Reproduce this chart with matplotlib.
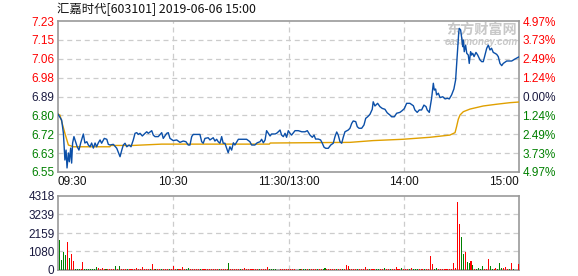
import matplotlib
matplotlib.use("Agg")
import matplotlib.pyplot as plt

# ---------------- data ----------------
title = "汇嘉时代[603101] 2019-06-06 15:00"
pre_close = 6.89
tick_pcts = [-4.97, -3.73, -2.49, -1.24, 0.0, 1.24, 2.49, 3.73, 4.97]
price_labels = ["6.55", "6.63", "6.72", "6.80", "6.89", "6.98", "7.06", "7.15", "7.23"]
pct_labels = ["4.97%", "3.73%", "2.49%", "1.24%", "0.00%", "1.24%", "2.49%", "3.73%", "4.97%"]
time_ticks = [0, 60, 120, 180, 240]
time_labels = ["09:30", "10:30", "11:30/13:00", "14:00", "15:00"]
vol_ticks = [0, 1080, 2159, 3239, 4318]
vol_labels = ["0", "1080", "2159", "3239", "4318"]

price_t = [0, 1.9, 2.8, 3.6, 4.2, 4.7, 5.4, 5.9, 6.6, 7.1, 7.6, 8.3, 9.4, 10, 10.9, 11.8, 13.2, 14, 15, 15.8,
           16.7, 17.5, 18.4, 19.3, 20.1, 21, 21.9, 22.7, 24.1, 25.4, 26.2, 27.1, 28.8, 30.6, 32.3, 33.2, 34, 34.9,
           35.8, 37, 38, 39.2, 40.1, 41, 41.8, 42.7, 43.9, 45.3, 46.2, 47, 48.8, 49.6, 50.5, 52.2, 54, 54.8, 56.6,
           57.4, 58.3, 60, 61.8, 63.5, 65.2, 66.6, 67.8, 68.7, 69.6, 70.4, 73.9, 74.8, 75.6, 76.5, 78.2, 79.1, 80.8,
           81.7, 82.6, 83.4, 84.3, 85.2, 86, 86.9, 87.8, 88.6, 89.5, 90.4, 91.3, 92.1, 93.9, 98.2, 99.9, 100.8,
           102.5, 103.7, 105.2, 106, 106.9, 107.8, 108.6, 109.5, 110.4, 111.2, 113, 113.8, 114.7, 115.6, 116.4,
           117.3, 118.2, 119, 119.9, 120.8, 121.6, 123.4, 125.1, 126.9, 128.6, 129.8, 131.2, 132.4, 133.3, 134.1,
           135.5, 136.7, 137.6, 138.5, 139.4, 140.7, 142, 143.3, 144.2, 145.1, 145.9, 146.8, 147.7, 148.5, 149.4,
           151.1, 152, 152.9, 153.7, 155, 155.8, 156.7, 158.1, 159.3, 160.2, 161.2, 162.4, 163.6, 164.1, 165,
           166.4, 167.6, 168.8, 170.2, 171.4, 172.8, 173.7, 175.1, 176.3, 178, 179.2, 180.3, 181.5, 183.2, 185,
           185.8, 187, 188.1, 189.3, 190.5, 191.6, 192.2, 193.3, 194.5, 195.4, 195.9, 196.6, 197.1, 198, 198.9,
           200.3, 201.5, 202.7, 203.7, 204.9, 206.1, 207, 207.5, 208.1, 208.6, 208.9, 209.6, 210.2, 210.7, 211,
           211.5, 212.2, 212.8, 213.6, 214.1, 214.8, 215.3, 215.9, 216.6, 217.6, 218.5, 219.7, 220.6, 221.4,
           222.3, 223.2, 224, 224.9, 225.7, 226.6, 227.5, 228.4, 229.2, 230.1, 231, 231.8, 233.6, 236.2, 237.9,
           239.6, 240]
price_v = [6.810, 6.783, 6.724, 6.602, 6.647, 6.566, 6.634, 6.594, 6.656, 6.588, 6.679, 6.708, 6.679, 6.662,
           6.647, 6.679, 6.720, 6.679, 6.685, 6.670, 6.662, 6.679, 6.656, 6.679, 6.662, 6.680, 6.693, 6.678,
           6.700, 6.696, 6.673, 6.670, 6.673, 6.655, 6.617, 6.647, 6.670, 6.678, 6.662, 6.670, 6.662, 6.693,
           6.723, 6.726, 6.718, 6.723, 6.711, 6.723, 6.730, 6.723, 6.735, 6.715, 6.708, 6.708, 6.726, 6.700,
           6.723, 6.726, 6.700, 6.690, 6.693, 6.682, 6.688, 6.685, 6.670, 6.670, 6.708, 6.718, 6.718, 6.685,
           6.678, 6.700, 6.703, 6.693, 6.703, 6.688, 6.696, 6.685, 6.678, 6.708, 6.678, 6.678, 6.655, 6.635,
           6.662, 6.647, 6.680, 6.670, 6.696, 6.696, 6.685, 6.670, 6.670, 6.680, 6.685, 6.696, 6.680, 6.693,
           6.735, 6.723, 6.711, 6.720, 6.720, 6.723, 6.730, 6.738, 6.715, 6.708, 6.723, 6.705, 6.735, 6.723,
           6.715, 6.735, 6.735, 6.730, 6.730, 6.735, 6.715, 6.705, 6.715, 6.697, 6.697, 6.693, 6.678, 6.660,
           6.655, 6.655, 6.670, 6.678, 6.708, 6.729, 6.715, 6.685, 6.678, 6.705, 6.730, 6.738, 6.746, 6.768,
           6.779, 6.776, 6.753, 6.746, 6.746, 6.761, 6.791, 6.798, 6.809, 6.832, 6.866, 6.847, 6.859, 6.844,
           6.836, 6.832, 6.816, 6.806, 6.798, 6.798, 6.814, 6.818, 6.826, 6.835, 6.859, 6.859, 6.848, 6.829,
           6.818, 6.829, 6.829, 6.851, 6.844, 6.829, 6.818, 6.882, 6.950, 6.919, 6.924, 6.897, 6.905, 6.885,
           6.889, 6.879, 6.882, 6.879, 6.897, 6.924, 6.965, 7.033, 7.109, 7.177, 7.199, 7.192, 7.154, 7.116,
           7.146, 7.093, 7.123, 7.086, 7.078, 7.040, 7.093, 7.078, 7.086, 7.071, 7.090, 7.078, 7.056, 7.048,
           7.048, 7.078, 7.109, 7.123, 7.101, 7.109, 7.090, 7.086, 7.081, 7.071, 7.040, 7.030, 7.040, 7.051,
           7.051, 7.060, 7.068, 7.070]

avg_t = [0, 1, 3.6, 5.4, 8, 27, 27.6, 39, 54, 110, 110.5, 152, 164, 179.6, 193.6, 204, 206.7, 207.5, 208.4,
         209.3, 211, 214.5, 221.4, 228.4, 235.3, 240]
avg_v = [6.810, 6.806, 6.723, 6.670, 6.662, 6.662, 6.668, 6.668, 6.674, 6.674, 6.679, 6.682, 6.690, 6.696,
         6.705, 6.715, 6.726, 6.753, 6.787, 6.806, 6.821, 6.833, 6.847, 6.855, 6.862, 6.865]

volume = [
    0, 1750, 580, 1050, 875, 1630, 700, 935, 525, 60, 60, 60, 60, 470, 60, 60, 60, 60, 60, 60,
    175, 110, 60, 110, 60, 60, 60, 60, 60, 60, 230, 60, 230, 60, 60, 60, 60, 60, 60, 60,
    60, 110, 60, 60, 175, 60, 60, 60, 60, 350, 60, 60, 60, 60, 60, 60, 60, 60, 60, 60,
    230, 60, 60, 60, 60, 175, 60, 60, 110, 60, 60, 60, 60, 60, 60, 60, 60, 60, 60, 60,
    60, 60, 60, 60, 60, 60, 60, 60, 60, 410, 60, 60, 60, 60, 60, 60, 60, 110, 60, 60,
    60, 60, 60, 60, 60, 60, 60, 60, 60, 175, 60, 60, 60, 60, 0, 0, 60, 60, 60, 60,
    60, 60, 60, 60, 0, 0, 60, 60, 60, 60, 60, 60, 60, 60, 60, 60, 60, 60, 60, 110,
    60, 60, 60, 60, 60, 60, 60, 60, 60, 60, 290, 230, 60, 60, 60, 60, 60, 60, 60, 60,
    175, 60, 60, 60, 60, 60, 60, 60, 60, 60, 110, 60, 60, 60, 60, 60, 175, 60, 60, 110,
    60, 60, 60, 60, 110, 60, 60, 60, 60, 60, 60, 60, 60, 60, 820, 350, 60, 110, 60, 60,
    60, 60, 60, 60, 60, 60, 410, 110, 3970, 2690, 1930, 935, 1050, 470, 410, 525, 290, 60, 60, 110,
    60, 230, 60, 60, 640, 230, 60, 60, 110, 60, 410, 110, 110, 175, 60, 60, 410, 60, 0, 0, 350]
vol_dir = ("gggggrgrrgggrrgggggg" "grrrrgrrrrgrgrrrgrrr" "rrrrrrrrgrrgrrgrrrgr" "rrgrrrrggrrrrrgrrrrr"
           "rrrrgrrrrgrrrrrgrrrr" "rrrrrgrrrrggggggrrrr" "rrrrrrgrggrgrrrgrrgg" "rrrrrgrrgrrrgrrrgrrr"
           "rrgrrrggrrgrrgrrrrrg" "rrrgrgggrrrgrrrrggrr" "rrrrrrrrrrggrggrgrgg" "ggrrrggrrgggrrrgrgrrr")

# ---------------- styling ----------------
W, H = 578, 276
RED, GREEN, NAVY = "#ff0000", "#008000", "#1a1a40"
GRID = "#cccccc"
FRAME = "#999999"
FONT = ["Liberation Sans", "DejaVu Sans"]

fig = plt.figure(figsize=(W / 100, H / 100), dpi=100)
fig.patch.set_facecolor("white")

ax = fig.add_axes([58 / W, (H - 172) / H, 461 / W, 151 / H])
axv = fig.add_axes([58 / W, (H - 270) / H, 461 / W, 74 / H])

ticks = [pre_close * (1 + p / 100) for p in tick_pcts]
lo, hi = ticks[0], ticks[-1]

for a in (ax, axv):
    a.set_xlim(0, 240)
    for s in a.spines.values():
        s.set_color(FRAME)
        s.set_linewidth(1.2)
    for x in time_ticks[1:-1]:
        a.axvline(x, color=GRID, lw=0.9, ls=(0, (4, 3)), zorder=1)

# price panel
for y in ticks[1:-1]:
    ax.axhline(y, color=GRID, lw=0.9, ls=(0, (4, 3)), zorder=1)
ax.plot(avg_t, avg_v, color="#e0a000", lw=1.0, zorder=3)
ax.plot(price_t, price_v, color="#0b4fa8", lw=1.0, zorder=4)
ax.set_ylim(lo, hi)

ax.set_yticks(ticks)
ax.set_yticklabels(price_labels, fontsize=8.5, family=FONT)
tick_colors = [GREEN] * 4 + [NAVY] + [RED] * 4
for lab, c in zip(ax.get_yticklabels(), tick_colors):
    lab.set_color(c)
ax.set_xticks(time_ticks)
ax.set_xticklabels(time_labels, fontsize=8.5, family=FONT, color="#111111")
xl = ax.get_xticklabels()
xl[0].set_ha("left")
xl[-1].set_ha("right")
ax.tick_params(axis="both", length=0)
ax.tick_params(axis="y", pad=2.5)
ax.tick_params(axis="x", pad=3)

axr = ax.twinx()
axr.set_ylim(lo, hi)
axr.set_yticks(ticks)
axr.set_yticklabels(pct_labels, fontsize=8.5, family=FONT)
for lab, c in zip(axr.get_yticklabels(), tick_colors):
    lab.set_color(c)
axr.tick_params(axis="y", length=0, pad=2.5)
for s in axr.spines.values():
    s.set_visible(False)

# watermark
ax.text(446 / W, (H - 30) / H, "东方财富网", transform=fig.transFigure, fontsize=10.2,
        family=["Noto Sans CJK SC", "DejaVu Sans"], fontweight="bold", color="#c8c8c8",
        ha="left", va="center", zorder=2)
ax.text(445 / W, (H - 42) / H, "eastmoney.com", transform=fig.transFigure, fontsize=7.0,
        family=FONT, fontweight="bold", style="italic", color="#c8c8c8",
        ha="left", va="center", zorder=2)

# volume panel
for y in vol_ticks[1:-1]:
    axv.axhline(y, color=GRID, lw=0.9, ls=(0, (4, 3)), zorder=1)
bar_colors = [RED if d == "r" else GREEN for d in vol_dir]
axv.bar(range(len(volume)), volume, width=0.55, color=bar_colors, linewidth=0, zorder=3)
axv.set_ylim(0, vol_ticks[-1])
axv.set_yticks(vol_ticks)
axv.set_yticklabels(vol_labels, fontsize=8.5, family=FONT, color=NAVY)
axv.set_xticks([])
axv.tick_params(axis="y", length=0, pad=2.5)

# title
fig.text(57 / W, (H - 9) / H, title, fontsize=8.9,
         family=["Noto Sans CJK SC", "DejaVu Sans"], color="#111111", ha="left", va="center")

fig.savefig("out.png", dpi=100, facecolor="white")
